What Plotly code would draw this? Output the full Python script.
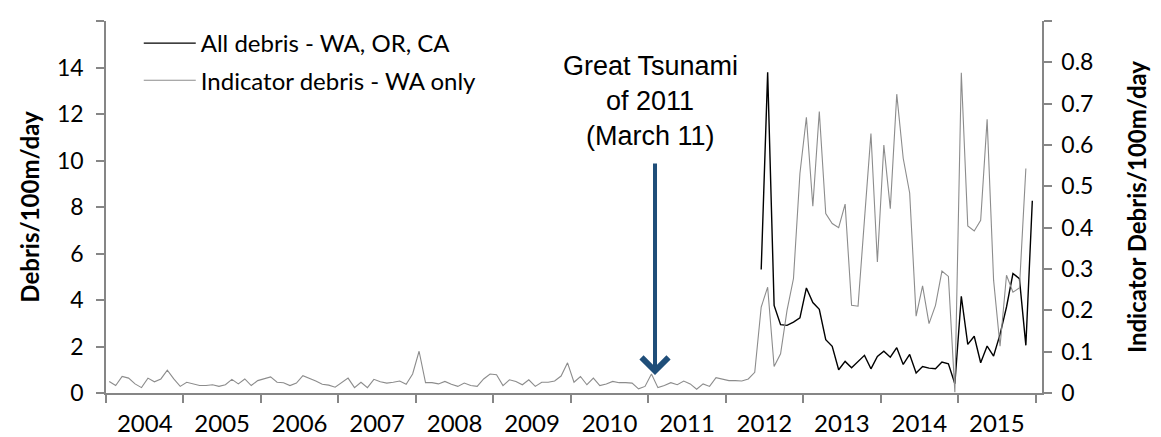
import plotly.graph_objects as go

years = [str(y) for y in range(2004, 2016)]

# monthly indicator debris (WA only), Jan 2004 .. Nov 2015
indicator_wa = [
    0.028, 0.018, 0.040, 0.036, 0.022, 0.013, 0.036, 0.027, 0.034, 0.055, 0.034, 0.016,
    0.026, 0.022, 0.018, 0.018, 0.020, 0.016, 0.020, 0.033, 0.022, 0.034, 0.018, 0.030,
    0.034, 0.039, 0.026, 0.025, 0.018, 0.024, 0.042, 0.036, 0.029, 0.021, 0.019, 0.014,
    0.026, 0.036, 0.013, 0.026, 0.013, 0.033, 0.027, 0.024, 0.026, 0.029, 0.021, 0.046,
    0.101, 0.025, 0.025, 0.022, 0.028, 0.021, 0.016, 0.024, 0.018, 0.016, 0.034, 0.046,
    0.044, 0.018, 0.032, 0.028, 0.020, 0.032, 0.016, 0.026, 0.026, 0.029, 0.041, 0.073,
    0.026, 0.040, 0.020, 0.036, 0.018, 0.022, 0.028, 0.025, 0.025, 0.024, 0.010, 0.016,
    0.046, 0.013, 0.018, 0.025, 0.020, 0.029, 0.022, 0.009, 0.022, 0.016, 0.037, 0.034,
    0.030, 0.030, 0.029, 0.034, 0.050, 0.208, 0.256, 0.064, 0.095, 0.200, 0.277, 0.531,
    0.667, 0.452, 0.681, 0.434, 0.410, 0.400, 0.457, 0.212, 0.210, 0.420, 0.628, 0.317,
    0.600, 0.446, 0.723, 0.568, 0.484, 0.186, 0.259, 0.168, 0.212, 0.295, 0.282, 0.002,
    0.775, 0.404, 0.392, 0.418, 0.662, 0.273, 0.113, 0.285, 0.244, 0.254, 0.543,
]

# all debris (WA, OR, CA), Jun 2012 .. Dec 2015
all_debris_start = 101  # month index of Jun 2012
all_debris = [
    5.31, 13.79, 3.77, 2.94, 2.91, 3.05, 3.23,
    4.52, 3.89, 3.60, 2.29, 2.01, 1.00, 1.36, 1.09, 1.37, 1.62, 1.04, 1.57,
    1.80, 1.54, 1.95, 1.23, 1.66, 0.86, 1.14, 1.07, 1.04, 1.33, 1.26, 0.40,
    4.16, 2.09, 2.44, 1.30, 2.02, 1.59, 2.52, 3.70, 5.14, 4.92, 2.05, 8.27,
]

FONT = "Lato"
AXIS = "#868686"

fig = go.Figure()
fig.add_trace(go.Scatter(
    x=list(range(all_debris_start, all_debris_start + len(all_debris))),
    y=all_debris,
    mode="lines",
    name="All debris - WA, OR, CA",
    line=dict(color="#000000", width=1.4),
    legendgroup="a",
))
fig.add_trace(go.Scatter(
    x=list(range(len(indicator_wa))),
    y=indicator_wa,
    mode="lines",
    name="Indicator debris - WA only",
    line=dict(color="#8c8c8c", width=1.1),
    yaxis="y2",
    legendgroup="b",
))

# arrow marking the tsunami
fig.add_annotation(
    x=84.55, y=0.77, xref="x", yref="y",
    text="", showarrow=True,
    ax=0, ay=-213,
    arrowhead=4, arrowsize=1.3, arrowwidth=4, arrowcolor="#1F4E79",
)
# label lines, placed on the left axis scale
for txt, yv in [("Great Tsunami", 14.08), ("of 2011", 12.56), ("(March 11)", 11.05)]:
    fig.add_annotation(
        x=83.8, y=yv, xref="x", yref="y",
        xanchor="center", yanchor="middle",
        text=txt, showarrow=False,
        font=dict(family="Liberation Sans, Arial", size=27, color="#000000"),
    )

fig.update_layout(
    width=1153, height=429,
    margin=dict(l=98, r=119, t=13, b=44),
    paper_bgcolor="white", plot_bgcolor="white",
    font=dict(family=FONT, size=23, color="#000000"),
    showlegend=True,
    legend=dict(
        x=0.035, y=1.0, xanchor="left", yanchor="top",
        bgcolor="rgba(0,0,0,0)", font=dict(size=24),
        itemwidth=52, tracegroupgap=3,
    ),
    xaxis=dict(
        range=[-0.5, 144.5],
        tickmode="array",
        tickvals=[5.5 + 12 * k for k in range(len(years))],
        ticktext=years,
        ticks="",
        tickfont=dict(size=24),
        showline=True, linecolor=AXIS, linewidth=1.5,
        showgrid=False, zeroline=False,
        ticklabelstandoff=8,
        automargin=False,
        minor=dict(
            tickmode="array",
            tickvals=[-0.5 + 12 * k for k in range(len(years) + 1)],
            ticks="outside", ticklen=8, tickcolor=AXIS, tickwidth=1.5,
            showgrid=False,
        ),
    ),
    yaxis=dict(
        range=[0, 16], dtick=2,
        showline=True, linecolor=AXIS, linewidth=1.5,
        ticks="outside", ticklen=8, tickcolor=AXIS, tickwidth=1.5,
        showgrid=False, zeroline=False,
        ticklabelstandoff=8,
        automargin=False,
        title=dict(text="<b>Debris/100m/day</b>", font=dict(size=24), standoff=11),
    ),
    yaxis2=dict(
        range=[0, 0.9], dtick=0.1,
        overlaying="y", side="right",
        showline=True, linecolor=AXIS, linewidth=1.5,
        ticks="outside", ticklen=8, tickcolor=AXIS, tickwidth=1.5,
        showgrid=False, zeroline=False,
        ticklabelstandoff=5,
        automargin=False,
        title=dict(text="<b>Indicator Debris/100m/day</b>", font=dict(size=24), standoff=37),
    ),
)

fig.write_html("out.html")
